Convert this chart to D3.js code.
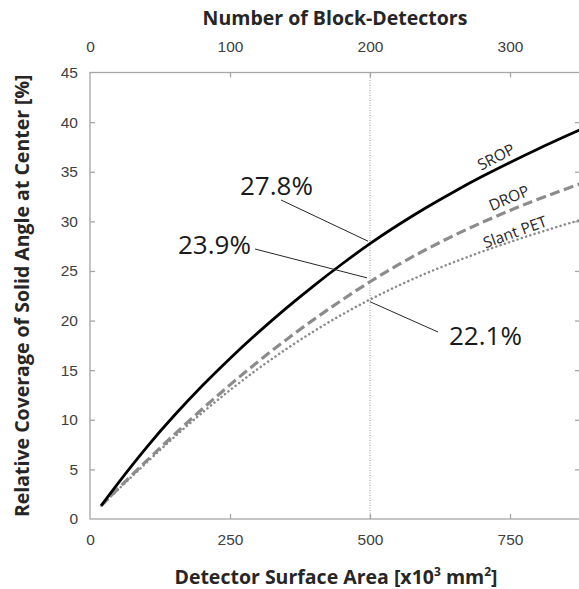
<!DOCTYPE html>
<html>
<head>
<meta charset="utf-8">
<script src="https://cdn.jsdelivr.net/npm/d3@7"></script>
<style>
  body { margin: 0; background: #fff; }
  svg { display: block; font-family: "Open Sans", "DejaVu Sans", sans-serif; }
</style>
</head>
<body>
<svg id="chart" width="579" height="589"></svg>
<script>
// detector surface area [x10^3 mm^2]
const areaX = [20, 50, 100, 150, 200, 250, 300, 350, 400, 450, 500, 550, 600, 650, 700, 750, 800, 850, 875];
// relative coverage [%]
const srop  = [1.35, 3.6, 7.15, 10.4, 13.4, 16.18, 18.78, 21.23, 23.53, 25.7, 27.75, 29.63, 31.37, 32.99, 34.51, 35.94, 37.3, 38.6, 39.23];
const drop  = [1.35, 3.05, 5.8, 8.48, 11.06, 13.52, 15.85, 18.05, 20.12, 22.07, 23.91, 25.61, 27.16, 28.58, 29.89, 31.1, 32.22, 33.27, 33.77];
const slant = [1.35, 2.95, 5.63, 8.23, 10.69, 12.99, 15.13, 17.11, 18.93, 20.6, 22.12, 23.5, 24.75, 25.89, 26.94, 27.92, 28.84, 29.71, 30.13];

const bottomTicks = [0, 250, 500, 750];
const topTicks = [0, 100, 200, 300];      // number of block-detectors
const yTicks = [0, 5, 10, 15, 20, 25, 30, 35, 40, 45];
const areaPerBlock = 2.5;                 // x10^3 mm^2 per block-detector
const markerX = 500;
const markerValues = [27.8, 23.9, 22.1];

const svg = d3.select("#chart");
const margin = {top: 72.5, left: 90, bottom: 519, right: 580};

const x = d3.scaleLinear().domain([0, 875]).range([margin.left, margin.right]);
const xTop = d3.scaleLinear().domain([0, 875 / areaPerBlock]).range([margin.left, margin.right]);
const y = d3.scaleLinear().domain([0, 45]).range([margin.bottom, margin.top]);

const axisColor = "#a6a6a6", labelColor = "#404040";

// frame
svg.append("rect")
    .attr("x", x(0)).attr("y", y(45))
    .attr("width", x(875) - x(0)).attr("height", y(0) - y(45))
    .attr("fill", "none").attr("stroke", axisColor).attr("stroke-width", 1.3);

function styleAxis(g) {
    g.select(".domain").remove();
    g.selectAll(".tick line").attr("stroke", axisColor).attr("stroke-width", 1.3);
    g.selectAll(".tick text").attr("fill", labelColor).style("font-size", "15.5px");
}

svg.append("g").attr("transform", "translate(0," + y(0) + ")")
    .call(d3.axisBottom(x).tickValues(bottomTicks).tickSizeInner(-5).tickPadding(15))
    .call(styleAxis)
    .call(g => g.selectAll(".tick").filter(d => d === 0).select("line").remove());

svg.append("g").attr("transform", "translate(0," + y(45) + ")")
    .call(d3.axisTop(xTop).tickValues(topTicks).tickSizeInner(-5).tickPadding(21))
    .call(styleAxis)
    .call(g => g.selectAll(".tick").filter(d => d === 0).select("line").remove());

svg.append("g").attr("transform", "translate(" + x(0) + ",0)")
    .call(d3.axisLeft(y).tickValues(yTicks).tickSizeInner(-5).tickPadding(12))
    .call(styleAxis)
    .call(g => g.selectAll(".tick").filter(d => d === 0 || d === 45).select("line").remove());

svg.append("g").attr("transform", "translate(" + x(875) + ",0)")
    .call(d3.axisRight(y).tickValues(yTicks.filter(d => d > 0 && d < 45)).tickSizeInner(-5).tickFormat(""))
    .call(styleAxis);

// vertical marker line
svg.append("line")
    .attr("x1", x(markerX)).attr("x2", x(markerX))
    .attr("y1", y(45)).attr("y2", y(0))
    .attr("stroke", "#9a9a9a").attr("stroke-width", 1)
    .attr("stroke-dasharray", "1,1.5");

const line = d3.line().curve(d3.curveNatural).x(d => x(d[0])).y(d => y(d[1]));

svg.append("path").datum(d3.zip(areaX, slant))
    .attr("d", line).attr("fill", "none")
    .attr("stroke", "#8a8a8a").attr("stroke-width", 2.5)
    .attr("stroke-linecap", "round").attr("stroke-dasharray", "0.1,4.4");

svg.append("path").datum(d3.zip(areaX, drop))
    .attr("d", line).attr("fill", "none")
    .attr("stroke", "#8c8c8c").attr("stroke-width", 3.2)
    .attr("stroke-dasharray", "10,4.5");

svg.append("path").datum(d3.zip(areaX, srop))
    .attr("d", line).attr("fill", "none")
    .attr("stroke", "#000").attr("stroke-width", 2.8);

// series labels
const seriesLabels = [
    {text: "SROP", cx: 496, cy: 157, angle: -27},
    {text: "DROP", cx: 509, cy: 198, angle: -23},
    {text: "Slant PET", cx: 515, cy: 232, angle: -20}
];
svg.selectAll(".slabel").data(seriesLabels).enter().append("text")
    .attr("class", "slabel")
    .attr("transform", d => "translate(" + d.cx + "," + d.cy + ") rotate(" + d.angle + ")")
    .attr("text-anchor", "middle").attr("dy", "0.35em")
    .attr("fill", "#262626").style("font-size", "15.5px")
    .text(d => d.text);

// value callouts at x = 500
const callouts = [
    {v: markerValues[0], tx: 240, ty: 195, lx: 281, ly: 200, ex: 368, off: -2},
    {v: markerValues[1], tx: 178, ty: 254, lx: 255, ly: 249, ex: 367, off: -4},
    {v: markerValues[2], tx: 449, ty: 345, lx: 438, ly: 332, ex: 370, off: 2}
];
callouts.forEach(c => {
    svg.append("line")
        .attr("x1", c.lx).attr("y1", c.ly)
        .attr("x2", c.ex).attr("y2", y(c.v) + c.off)
        .attr("stroke", "#262626").attr("stroke-width", 1);
    svg.append("text")
        .attr("x", c.tx).attr("y", c.ty)
        .attr("fill", "#1a1a1a").style("font-size", "26px")
        .text(c.v.toFixed(1) + "%");
});

// axis titles
svg.append("text")
    .attr("x", 335).attr("y", 25).attr("text-anchor", "middle")
    .attr("fill", "#262626").style("font-size", "19.5px").style("font-weight", "bold")
    .text("Number of Block-Detectors");

const bt = svg.append("text")
    .attr("x", 336).attr("y", 584).attr("text-anchor", "middle")
    .attr("fill", "#262626").style("font-size", "19.5px").style("font-weight", "bold");
bt.append("tspan").text("Detector Surface Area [x10");
bt.append("tspan").attr("dy", -8).style("font-size", "12px").text("3");
bt.append("tspan").attr("dy", 8).text(" mm");
bt.append("tspan").attr("dy", -8).style("font-size", "12px").text("2");
bt.append("tspan").attr("dy", 8).text("]");

svg.append("text")
    .attr("transform", "translate(29," + ((y(0) + y(45)) / 2) + ") rotate(-90)")
    .attr("text-anchor", "middle")
    .attr("fill", "#262626").style("font-size", "19.5px").style("font-weight", "bold")
    .text("Relative Coverage of Solid Angle at Center [%]");
</script>
</body>
</html>
